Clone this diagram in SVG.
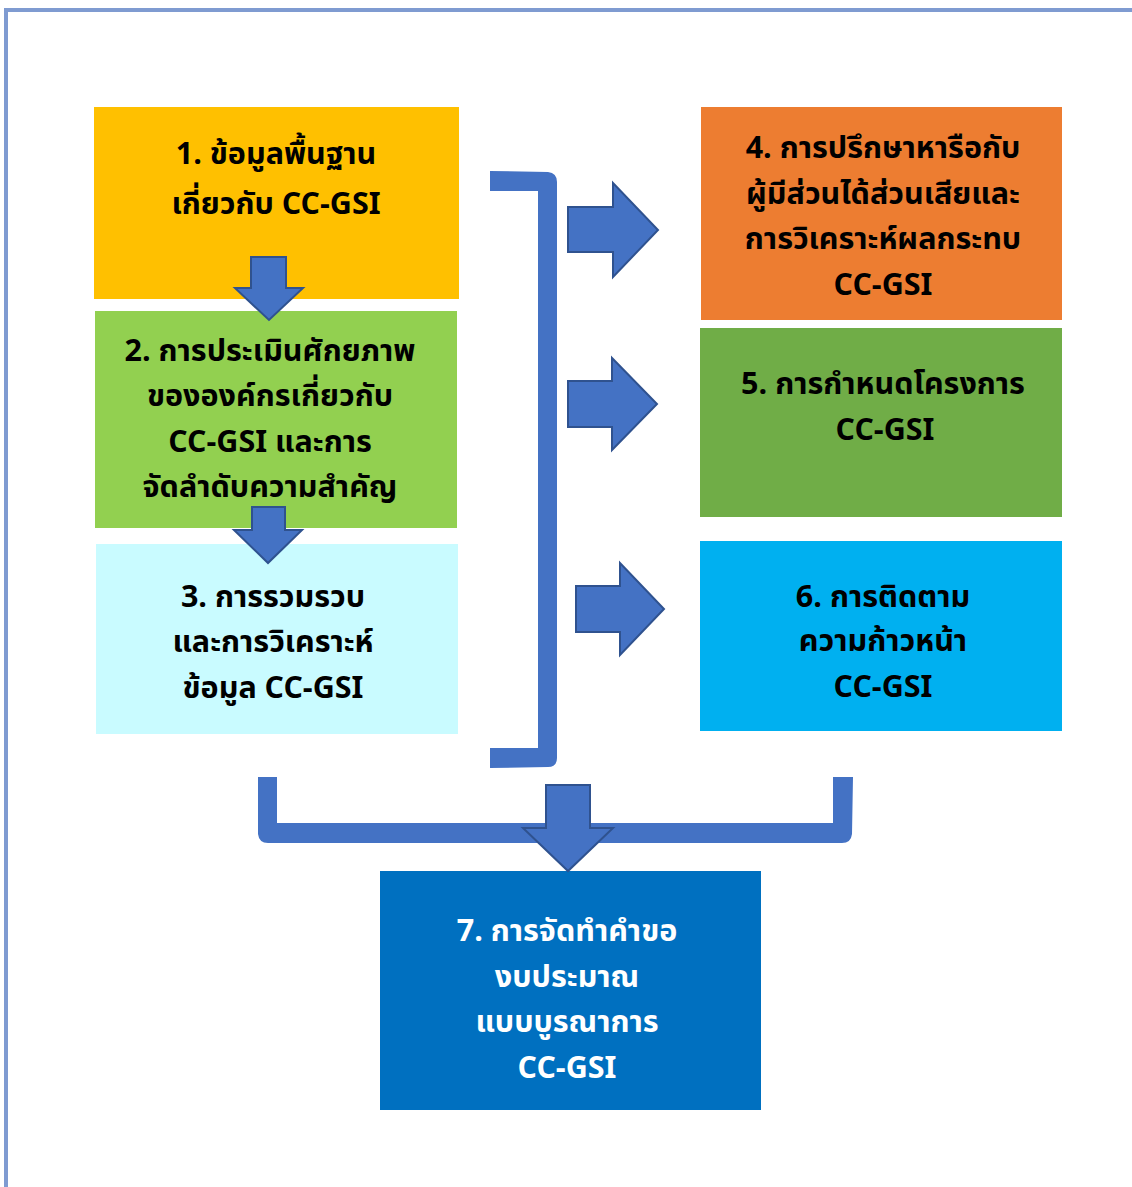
<svg xmlns="http://www.w3.org/2000/svg" width="1132" height="1187" viewBox="0 0 1132 1187">
<style>
.t{font-family:"Noto Sans Thai","Noto Sans","Liberation Sans",sans-serif;font-weight:bold;font-size:30.5px;text-anchor:middle;fill:#000}
.w{fill:#fff}
.arr{fill:#4472C4;stroke:#2F528F;stroke-width:2}
.br{fill:#4472C4}
</style>
<rect width="1132" height="1187" fill="#fff"/>
<path d="M6,1187 V10 H1132" fill="none" stroke="#7F9BD1" stroke-width="4"/>
<g id="node1"><rect x="94" y="107" width="365" height="192" fill="#FFC000"/>
<text class="t" x="276" y="164">1. ข้อมูลพื้นฐาน</text><text class="t" x="276" y="214">เกี่ยวกับ CC-GSI</text></g>
<g id="node2"><rect x="95" y="311" width="362" height="217" fill="#92D050"/>
<text class="t" x="270" y="361">2. การประเมินศักยภาพ</text><text class="t" x="270" y="406">ขององค์กรเกี่ยวกับ</text><text class="t" x="270" y="452">CC-GSI และการ</text><text class="t" x="270" y="497">จัดลำดับความสำคัญ</text></g>
<g id="node3"><rect x="96" y="544" width="362" height="190" fill="#C9FBFF"/>
<text class="t" x="273" y="607">3. การรวมรวบ</text><text class="t" x="273" y="652">และการวิเคราะห์</text><text class="t" x="273" y="698">ข้อมูล CC-GSI</text></g>
<g id="node4"><rect x="701" y="107" width="361" height="213" fill="#ED7D31"/>
<text class="t" x="883" y="158">4. การปรึกษาหารือกับ</text><text class="t" x="883" y="204">ผู้มีส่วนได้ส่วนเสียและ</text><text class="t" x="883" y="249">การวิเคราะห์ผลกระทบ</text><text class="t" x="883" y="295">CC-GSI</text></g>
<g id="node5"><rect x="700" y="328" width="362" height="189" fill="#70AD47"/>
<text class="t" x="883" y="394">5. การกำหนดโครงการ</text><text class="t" x="885" y="440">CC-GSI</text></g>
<g id="node6"><rect x="700" y="541" width="362" height="190" fill="#00B0F0"/>
<text class="t" x="883" y="607">6. การติดตาม</text><text class="t" x="883" y="651">ความก้าวหน้า</text><text class="t" x="883" y="697">CC-GSI</text></g>
<g id="node7"><rect x="380" y="871" width="381" height="239" fill="#0070C0"/>
<text class="t w" x="567" y="941">7. การจัดทำคำขอ</text><text class="t w" x="567" y="987">งบประมาณ</text><text class="t w" x="567" y="1032">แบบบูรณาการ</text><text class="t w" x="567" y="1078">CC-GSI</text></g>
<g id="connectors">
<path class="br" d="M490,171 L548,172 Q557,173 557,182 L557,758 Q557,767 548,767 L490,768 L490,748 L538,748 L538,191 L490,191 Z"/>
<path class="br" d="M258,777 L277,777 L277,823 L833,823 L833,777 L853,777 L852,834 Q851,843 842,843 L268,843 Q259,843 258,834 Z"/>
<polygon class="arr" points="251,257 286,257 286,288 303,288 269,320 235,288 251,288"/>
<polygon class="arr" points="252,507 285,507 285,530 302,530 268,563 234,530 252,530"/>
<polygon class="arr" points="568,207 613,207 613,183 658,230 613,277 613,252 568,252"/>
<polygon class="arr" points="568,381 612,381 612,358 657,404 612,450 612,427 568,427"/>
<polygon class="arr" points="576,586 620,586 620,563 664,609 620,655 620,632 576,632"/>
<polygon class="arr" points="546,785 590,785 590,828 613,828 568,871 523,828 546,828"/>
</g>
</svg>
